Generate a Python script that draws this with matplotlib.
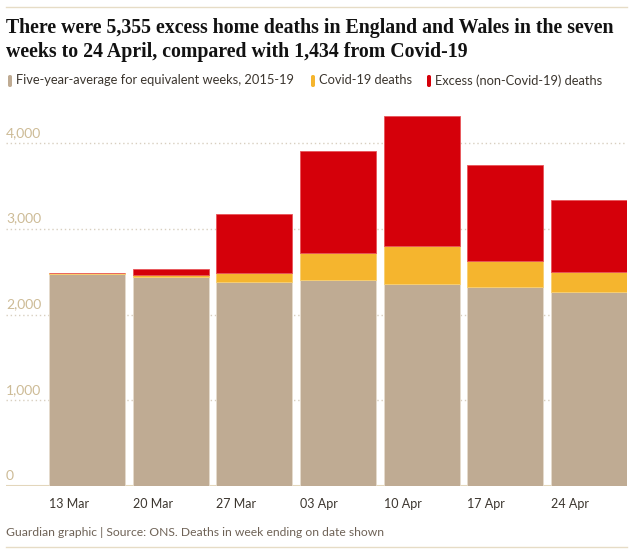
import matplotlib
matplotlib.use("Agg")
import matplotlib.pyplot as plt
from matplotlib.patches import FancyBboxPatch
from matplotlib.lines import Line2D
import matplotlib.transforms as mtransforms

# ---- data ----
weeks = ["13 Mar", "20 Mar", "27 Mar", "03 Apr", "10 Apr", "17 Apr", "24 Apr"]
average = [2478, 2438, 2380, 2399, 2357, 2322, 2259]
covid = [8, 23, 108, 322, 445, 302, 233]
excess = [0, 70, 683, 1182, 1515, 1116, 849]
yticks = [0, 1000, 2000, 3000, 4000]
ytick_labels = ["0", "1,000", "2,000", "3,000", "4,000"]
legend_labels = ["Five-year-average for equivalent weeks, 2015-19",
                 "Covid-19 deaths", "Excess (non-Covid-19) deaths"]
title = ("There were 5,355 excess home deaths in England and Wales in the seven\n"
         "weeks to 24 April, compared with 1,434 from Covid-19")
footer = "Guardian graphic | Source: ONS. Deaths in week ending on date shown"

C_BASE = "#bfab93"
C_COVID = "#f5b52e"
C_EXCESS = "#d5000a"
GRID = "#d8cfc0"
TICKC = "#cdbb96"
TEXTC = "#3b352e"

W, H = 633, 551
fig = plt.figure(figsize=(W / 100, H / 100), dpi=100)

def fx(px):
    return px / W

def fy(py):
    return 1 - py / H

# axes geometry
ax_left, ax_right = 6, 627
y0_px, y4000_px = 486, 143
ppu = (y0_px - y4000_px) / 4000
ymax = 4420
ax_top_px = y0_px - ymax * ppu
ax = fig.add_axes([fx(ax_left), fy(y0_px), fx(ax_right - ax_left), (y0_px - ax_top_px) / H])

c0, c6 = 87, 589
pitch = (c6 - c0) / 6
ax.set_xlim(-(c0 - ax_left) / pitch, 6 + (ax_right - c6) / pitch)
ax.set_ylim(0, ymax)
for s in ax.spines.values():
    s.set_visible(False)
ax.set_xticks([])
ax.set_yticks([])

# gridlines
for v in yticks[1:]:
    ax.axhline(v, color=GRID, lw=1.0, ls=(0, (1, 2)), zorder=0)
ax.axhline(0, color="#e3d6bb", lw=1.5, zorder=0)

x = list(range(len(weeks)))
bw = 0.91
bottom2 = [a + c for a, c in zip(average, covid)]
ax.bar(x, average, width=bw, color=C_BASE, edgecolor="#e6dccd", linewidth=0.6, zorder=2)
ax.bar(x, covid, bottom=average, width=bw, color=C_COVID, edgecolor="#f8cf70", linewidth=0.6, zorder=2)
ax.bar(x, excess, bottom=bottom2, width=bw, color=C_EXCESS, edgecolor="#e8555a", linewidth=0.6, zorder=2)

# y tick labels above gridlines
trans = mtransforms.blended_transform_factory(ax.transAxes, ax.transData)
for v, lab in zip(yticks, ytick_labels):
    ax.annotate(lab, xy=(0.0, v), xycoords=trans, xytext=(0, 3),
                textcoords="offset points", ha="left", va="bottom", fontsize=10,
                color=TICKC, family="Lato")

# x labels
for i, lab in enumerate(weeks):
    ax.annotate(lab, xy=(i - bw / 2, 0), xycoords="data", xytext=(0, -9),
                textcoords="offset points", ha="left", va="top", fontsize=9,
                color=TEXTC, family="Lato")

# top rule
fig.add_artist(Line2D([fx(6), fx(627)], [fy(7), fy(7)], color="#e6dcc6", lw=1))
# title
fig.text(fx(6), fy(18.5), title, ha="left", va="top", fontsize=14.3, fontweight="bold",
         family="Liberation Serif", color="#121212", linespacing=1.2)

# legend
leg_x = [8, 311, 427]
cols = [C_BASE, C_COVID, C_EXCESS]
for lx, col, lab in zip(leg_x, cols, legend_labels):
    fig.add_artist(FancyBboxPatch((fx(lx), fy(87)), fx(4), 12 / H,
                                  boxstyle="round,pad=0,rounding_size=0.003",
                                  transform=fig.transFigure, facecolor=col, edgecolor="none"))
    fig.text(fx(lx + 8), fy(80.5), lab, ha="left", va="center", fontsize=9.3,
             color=TEXTC, family="Lato")

# footer
fig.text(fx(6), fy(532), footer, ha="left", va="center", fontsize=8.7,
         color="#6e6256", family="Lato")
fig.add_artist(Line2D([fx(6), fx(627)], [fy(547), fy(547)], color="#e6dcc6", lw=1))

fig.savefig("out.png", dpi=100)
